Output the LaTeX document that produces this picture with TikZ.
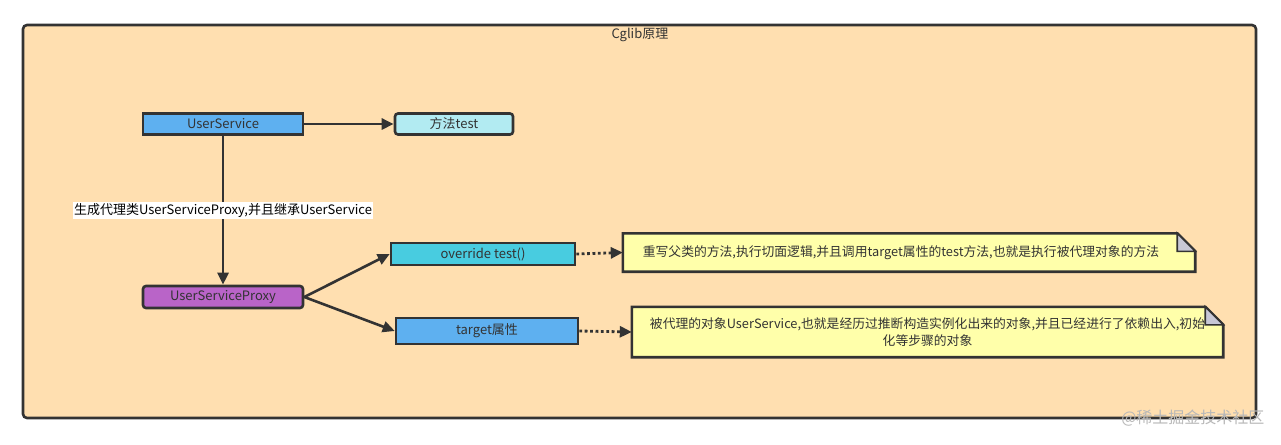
\documentclass[tikz,border=0pt]{standalone}
\usepackage{fontspec}
\setmainfont{Noto Sans CJK SC}
\usetikzlibrary{arrows.meta}
\definecolor{framefill}{HTML}{FFDFB0}
\definecolor{edge}{HTML}{333333}
\definecolor{usblue}{HTML}{5EB0F0}
\definecolor{lightcyan}{HTML}{B2EBF2}
\definecolor{cyanbox}{HTML}{48CCE0}
\definecolor{purplebox}{HTML}{B964C8}
\definecolor{notefill}{HTML}{FFFFAA}
\definecolor{foldfill}{HTML}{C8C8D6}
\tikzset{
  box/.style={draw=edge, line width=2.6pt, inner sep=0pt, font=\fontsize{13}{15}\selectfont, text=edge},
  conn/.style={draw=edge, line width=2.6pt, -{Triangle[length=12pt,width=11pt]}},
  dotconn/.style={draw=edge, line width=2.8pt, dash pattern=on 2.8pt off 2.6pt, -{Triangle[length=12pt,width=11pt]}},
  notebox/.style={inner sep=0pt, font=\fontsize{12.8}{17}\selectfont, text=edge, align=center},
}
\begin{document}
\begin{tikzpicture}[x=1pt,y=-1pt]
\useasboundingbox (0,0) rectangle (1281,444);
% frame
\draw[draw=edge, line width=2.6pt, fill=framefill, rounded corners=4pt] (23,25) rectangle (1256,418);
\node[font=\fontsize{13}{15}\selectfont, text=edge] (title) at (640,35) {Cglib原理};
% nodes
\node[box, fill=usblue, minimum width=160pt, minimum height=21pt] (us) at (223,124) {UserService};
\node[box, fill=lightcyan, rounded corners=3pt, minimum width=118pt, minimum height=21pt] (mt) at (454,124) {方法test};
\node[box, fill=purplebox, rounded corners=3pt, minimum width=160pt, minimum height=22pt] (proxy) at (223,297) {UserServiceProxy};
\node[box, fill=cyanbox, minimum width=184pt, minimum height=22pt] (ov) at (483,254) {override test()};
\node[box, fill=usblue, minimum width=182pt, minimum height=26pt] (tg) at (487,331) {target属性};
% notes (outline drawn from their anchors)
\node[notebox, minimum width=572pt, minimum height=38pt] (n1) at (909,252.5) {};
\node[notebox, minimum width=591pt, minimum height=50pt] (n2) at (927.5,332) {};
\foreach \n in {n1,n2}{
  \draw[draw=edge, line width=2.6pt, fill=notefill]
    (\n.south west) -- (\n.north west) -- ([xshift=-18pt]\n.north east) -- ([yshift=-18pt]\n.north east) -- (\n.south east) -- cycle;
  \draw[draw=edge, line width=1.6pt, fill=foldfill]
    ([xshift=-18pt]\n.north east) -- ([xshift=-18pt,yshift=-18pt]\n.north east) -- ([yshift=-18pt]\n.north east) -- cycle;
}
\node[notebox] (t1) at ([xshift=-8pt]n1.center) {重写父类的方法,执行切面逻辑,并且调用target属性的test方法,也就是执行被代理对象的方法};
\node[notebox] (t2) at (n2.center) {被代理的对象UserService,也就是经历过推断构造实例化出来的对象,并且已经进行了依赖出入,初始\\化等步骤的对象};
% connectors
\draw[conn] (us) -- (mt);
\draw[conn] (us) -- node[fill=white, inner sep=1.5pt, font=\fontsize{13}{15}\selectfont, text=black] (lbl) {生成代理类UserServiceProxy,并且继承UserService} (proxy);
\draw[conn] (proxy.east) -- (ov.west);
\draw[conn] (proxy.east) -- (tg.west);
\draw[dotconn] (ov.east) -- (n1.west);
\draw[dotconn] (tg.east) -- (n2.west);
% watermark
\node[font=\fontsize{16}{18}\selectfont, text=black!28, anchor=east] (wm) at (1268,418) {@稀土掘金技术社区};
\end{tikzpicture}
\end{document}
